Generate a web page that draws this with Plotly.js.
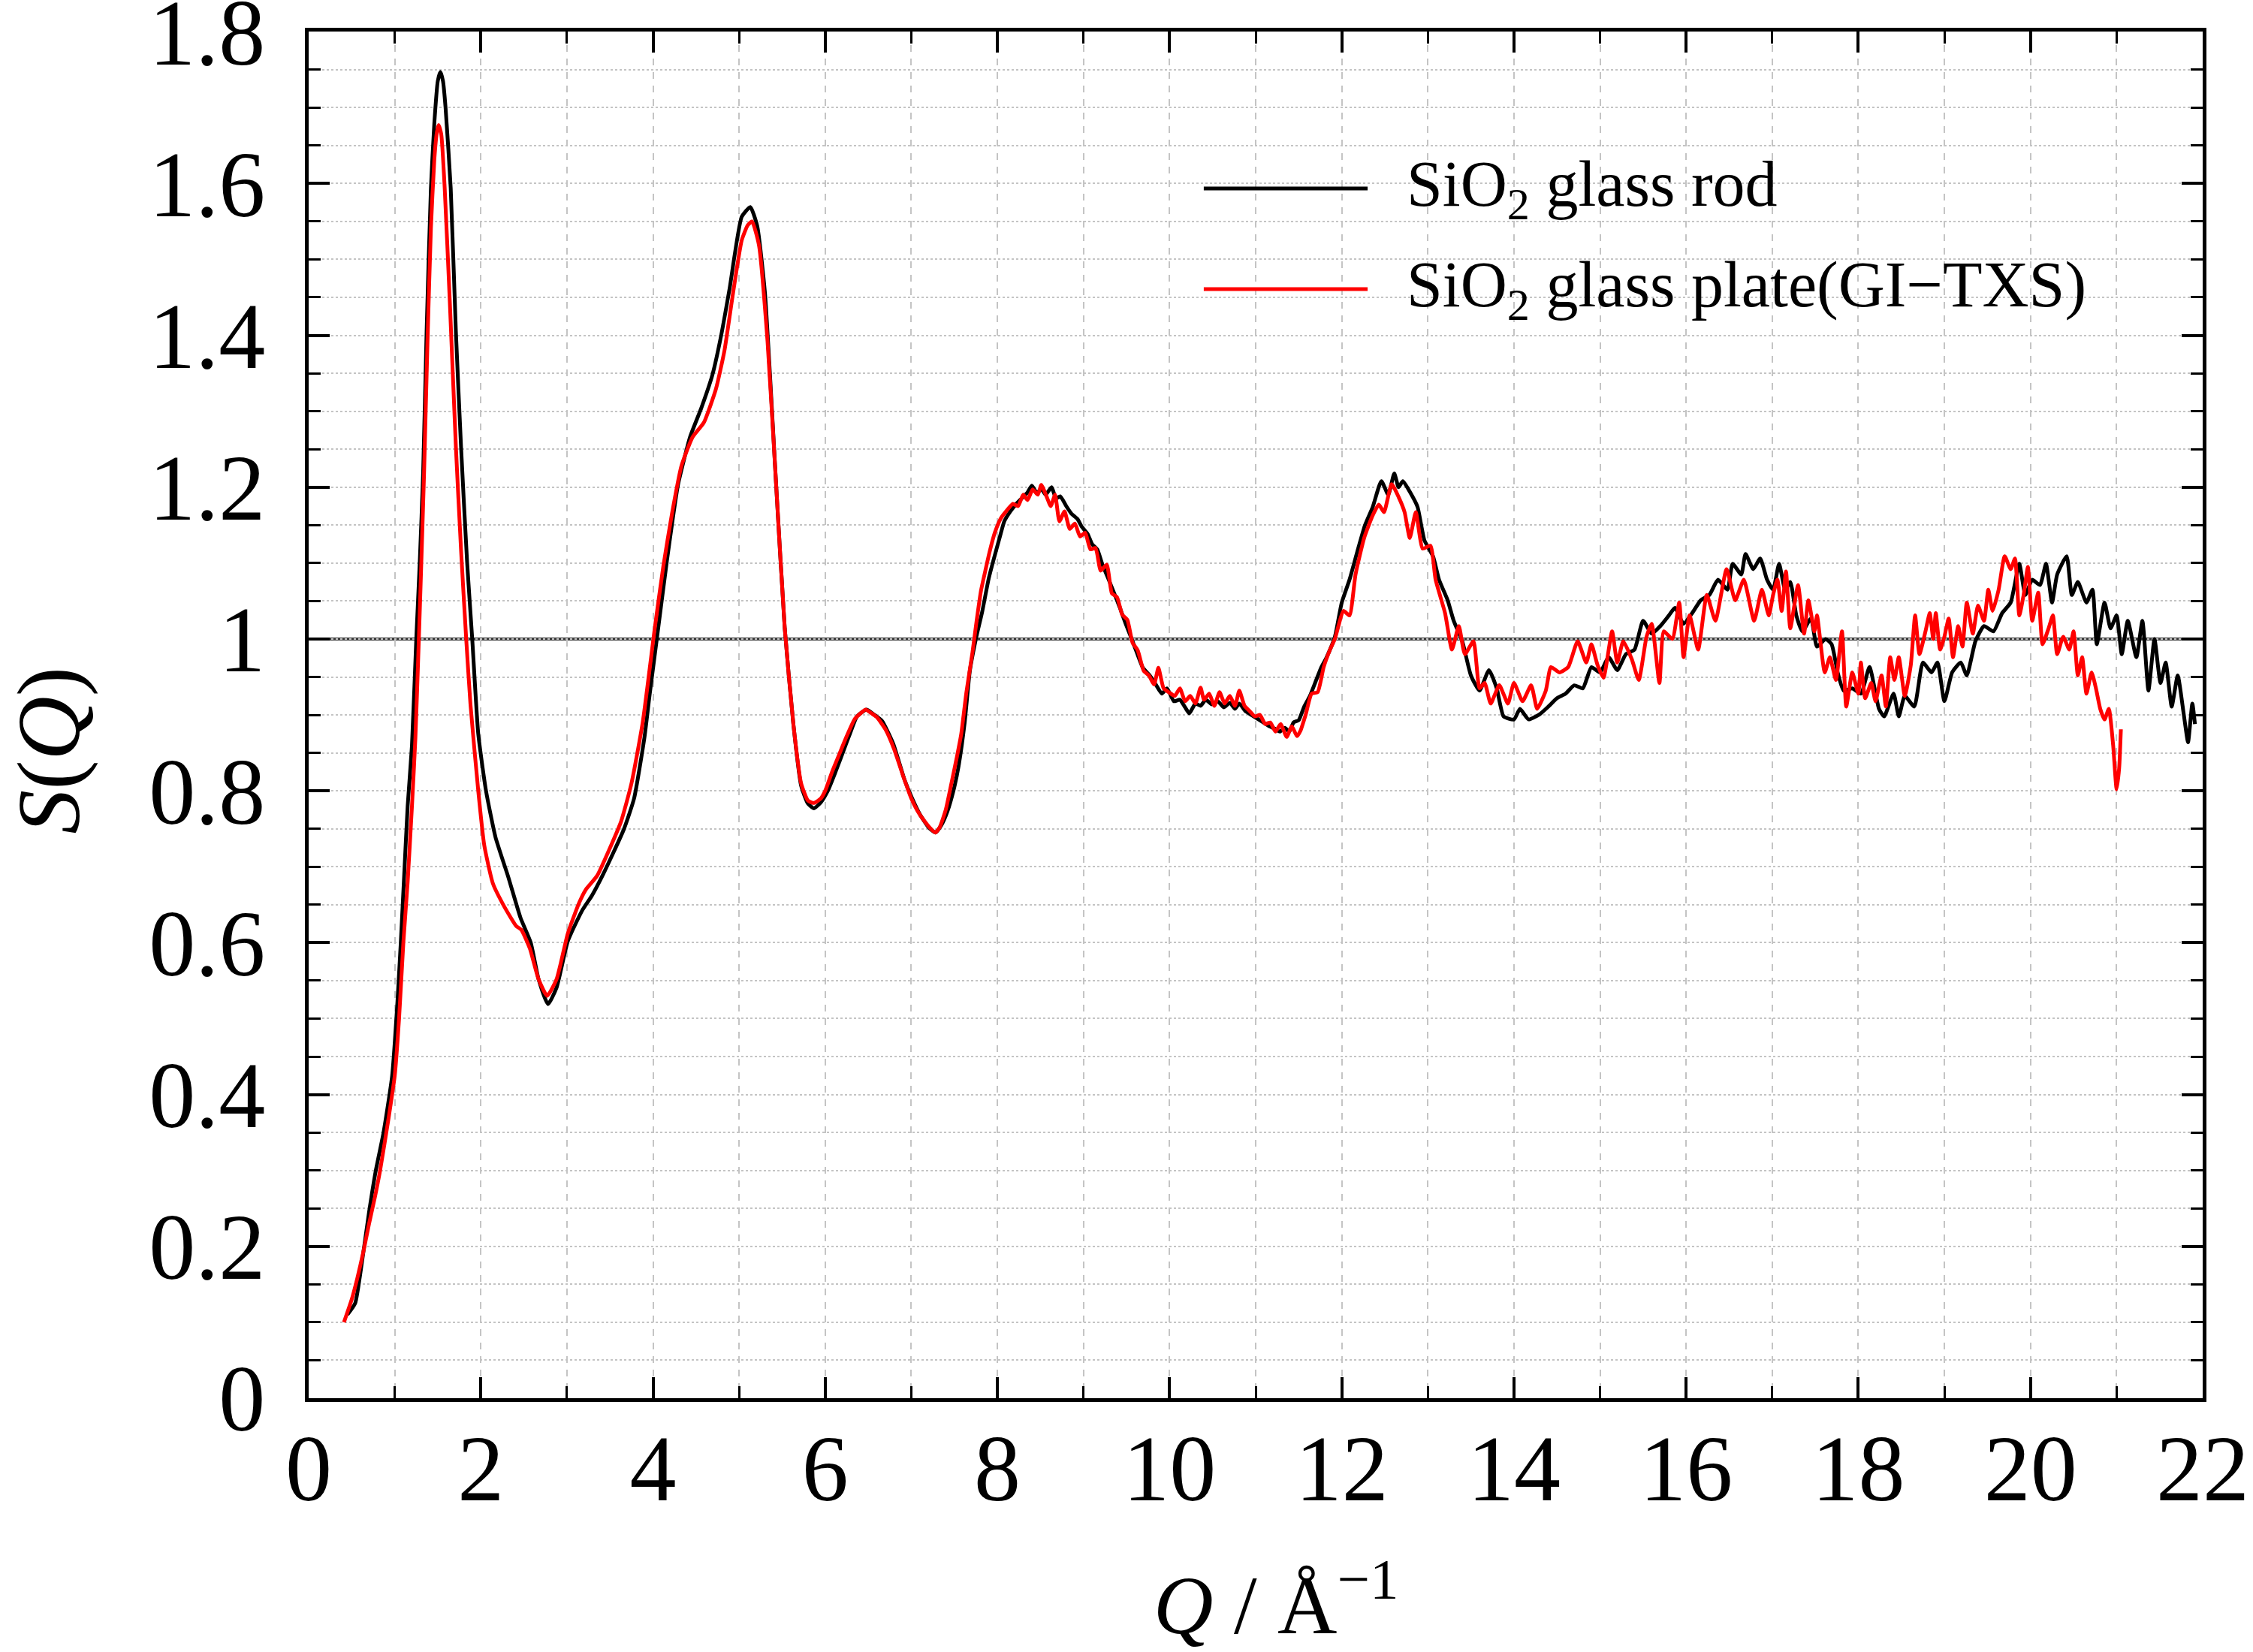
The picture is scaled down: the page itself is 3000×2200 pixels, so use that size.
<!DOCTYPE html>
<html>
<head>
<meta charset="utf-8">
<script src="https://cdn.plot.ly/plotly-3.0.1.min.js"></script>
<style>
  body { margin: 0; background: #fff; }
  #chart { width: 3000px; height: 2200px; }
</style>
</head>
<body>
<div id="chart"></div>
<script>
// SiO2 glass rod (black)
var qRod = [
  0.45,0.54,0.62,0.70,0.78,0.87,0.97,1.03,1.07,1.11,
  1.15,1.20,1.25,1.29,1.33,1.37,1.42,1.46,1.50,1.53,1.56,1.59,
  1.65,1.71,1.77,1.84,1.90,1.97,2.06,2.17,2.32,2.46,
  2.58,2.67,2.78,2.88,3.01,3.18,3.29,3.42,3.66,3.78,
  3.90,3.96,4.06,4.16,4.29,4.43,4.56,4.69,4.79,4.89,
  5.03,5.13,5.21,5.30,5.43,5.53,5.63,5.72,5.80,5.87,
  5.95,6.03,6.12,6.21,6.29,6.37,6.48,6.56,6.66,6.79,
  6.92,7.01,7.10,7.20,7.28,7.35,7.42,7.50,7.55,7.62,
  7.68,7.75,7.82,7.90,7.95,8.03,8.08,8.15,8.22,8.28,
  8.35,8.40,8.46,8.51,8.56,8.63,8.68,8.73,8.80,8.86,
  8.93,8.98,9.05,9.10,9.16,9.22,9.29,9.35,9.42,9.49,
  9.56,9.62,9.69,9.77,9.84,9.91,9.97,10.05,10.12,10.18,
  10.23,10.30,10.36,10.42,10.49,10.56,10.63,10.70,10.76,10.81,
  10.88,10.95,11.02,11.09,11.16,11.22,11.28,11.34,11.39,11.44,
  11.50,11.56,11.63,11.70,11.76,11.82,11.92,12.00,12.09,12.19,
  12.27,12.36,12.46,12.54,12.61,12.66,12.71,12.79,12.88,12.96,
  13.06,13.13,13.23,13.30,13.40,13.50,13.60,13.71,13.80,13.88,
  14.00,14.07,14.17,14.30,14.40,14.50,14.60,14.70,14.80,14.90,
  15.00,15.10,15.20,15.30,15.40,15.50,15.60,15.70,15.80,15.87,
  15.97,16.07,16.17,16.27,16.37,16.48,16.54,16.64,16.69,16.78,
  16.86,16.94,17.01,17.08,17.15,17.21,17.28,17.35,17.45,17.52,
  17.62,17.69,17.76,17.83,17.93,18.03,18.13,18.24,18.30,18.41,
  18.47,18.54,18.65,18.75,18.85,18.92,19.00,19.09,19.19,19.26,
  19.36,19.46,19.57,19.67,19.77,19.87,19.94,20.02,20.11,20.18,
  20.25,20.31,20.42,20.48,20.55,20.65,20.72,20.77,20.86,20.93,
  21.00,21.06,21.13,21.23,21.30,21.37,21.44,21.51,21.57,21.64,
  21.71,21.78,21.83,21.88,21.91
];
var sRod = [
  0.11,0.125,0.18,0.244,0.30,0.35,0.425,0.52,0.60,0.69,
  0.78,0.86,1.0,1.10,1.22,1.405,1.594,1.68,1.735,1.747,1.735,1.70,
  1.594,1.405,1.253,1.102,1.0,0.875,0.80,0.739,0.686,0.633,
  0.60,0.552,0.519,0.541,0.602,0.643,0.662,0.69,0.749,0.79,
  0.87,0.926,1.014,1.102,1.203,1.266,1.304,1.348,1.399,1.462,
  1.556,1.569,1.544,1.456,1.203,1.014,0.888,0.807,0.783,0.777,
  0.785,0.80,0.825,0.852,0.876,0.898,0.907,0.901,0.892,0.862,
  0.815,0.79,0.769,0.752,0.745,0.755,0.773,0.805,0.833,0.89,
  0.958,1.0,1.034,1.08,1.102,1.135,1.155,1.168,1.178,1.185,
  1.193,1.202,1.192,1.198,1.19,1.20,1.185,1.188,1.175,1.165,
  1.158,1.148,1.138,1.125,1.118,1.098,1.079,1.062,1.042,1.02,
  1.0,0.982,0.962,0.952,0.94,0.928,0.935,0.918,0.92,0.91,
  0.902,0.915,0.912,0.92,0.914,0.918,0.91,0.916,0.908,0.915,
  0.905,0.90,0.895,0.89,0.885,0.882,0.878,0.883,0.878,0.89,
  0.893,0.91,0.925,0.945,0.962,0.975,1.003,1.048,1.078,1.119,
  1.15,1.174,1.208,1.19,1.218,1.20,1.208,1.194,1.174,1.13,
  1.109,1.078,1.051,1.024,0.997,0.952,0.932,0.959,0.935,0.898,
  0.894,0.908,0.894,0.901,0.911,0.922,0.928,0.939,0.935,0.963,
  0.956,0.976,0.959,0.98,0.986,1.024,1.007,1.017,1.031,1.041,
  1.02,1.034,1.051,1.058,1.078,1.065,1.099,1.085,1.112,1.092,
  1.106,1.078,1.065,1.099,1.065,1.075,1.031,1.01,1.027,0.99,
  1.0,0.993,0.956,0.932,0.935,0.928,0.963,0.908,0.898,0.928,
  0.898,0.925,0.911,0.969,0.956,0.969,0.918,0.956,0.969,0.952,
  0.997,1.017,1.01,1.034,1.048,1.099,1.058,1.078,1.071,1.099,
  1.048,1.085,1.109,1.058,1.075,1.048,1.065,0.993,1.048,1.014,
  1.031,0.98,1.024,0.976,1.024,0.932,1.0,0.942,0.969,0.911,
  0.952,0.901,0.864,0.915,0.888
];

// SiO2 glass plate, GI-TXS (red)
var qPlate = [
  0.41,0.50,0.565,0.63,0.70,0.77,0.83,0.93,1.00,1.05,
  1.10,1.15,1.20,1.24,1.28,1.30,1.34,1.38,1.42,1.46,1.49,
  1.51,1.54,1.58,1.64,1.71,1.77,1.83,1.88,1.97,2.04,2.14,
  2.27,2.41,2.47,2.57,2.67,2.77,2.88,3.01,3.14,3.22,
  3.35,3.52,3.63,3.75,3.88,4.02,4.12,4.22,4.33,4.46,
  4.59,4.73,4.83,4.93,5.03,5.10,5.15,5.23,5.33,5.43,
  5.53,5.63,5.72,5.80,5.87,5.95,6.00,6.08,6.17,6.25,
  6.34,6.42,6.47,6.54,6.60,6.70,6.80,6.91,7.00,7.07,
  7.14,7.21,7.28,7.33,7.40,7.47,7.53,7.58,7.64,7.71,
  7.76,7.81,7.86,7.91,7.97,8.04,8.10,8.18,8.24,8.30,
  8.35,8.41,8.47,8.51,8.57,8.62,8.67,8.72,8.78,8.84,
  8.90,8.96,9.02,9.08,9.14,9.20,9.27,9.33,9.39,9.45,
  9.51,9.57,9.63,9.70,9.76,9.82,9.87,9.93,9.99,10.06,
  10.12,10.18,10.24,10.30,10.36,10.40,10.46,10.52,10.58,10.64,
  10.70,10.76,10.81,10.87,10.93,10.99,11.05,11.11,11.17,11.23,
  11.29,11.36,11.42,11.48,11.52,11.58,11.65,11.72,11.79,11.86,
  11.92,12.02,12.09,12.16,12.26,12.36,12.43,12.49,12.58,12.66,
  12.73,12.79,12.86,12.94,13.03,13.09,13.20,13.28,13.36,13.43,
  13.53,13.60,13.66,13.73,13.83,13.93,14.00,14.10,14.20,14.27,
  14.37,14.43,14.53,14.63,14.74,14.84,14.90,14.97,15.04,15.14,
  15.20,15.27,15.37,15.45,15.54,15.60,15.69,15.74,15.84,15.92,
  15.97,16.04,16.14,16.24,16.34,16.47,16.57,16.67,16.79,16.88,
  16.96,17.01,17.06,17.11,17.16,17.21,17.30,17.37,17.42,17.49,
  17.52,17.61,17.67,17.74,17.81,17.86,17.93,18.00,18.03,18.08,
  18.15,18.20,18.27,18.32,18.37,18.42,18.47,18.54,18.61,18.66,
  18.71,18.78,18.83,18.87,18.90,18.95,19.00,19.05,19.10,19.16,
  19.21,19.26,19.33,19.39,19.46,19.51,19.56,19.63,19.70,19.77,
  19.82,19.87,19.92,19.97,20.02,20.09,20.14,20.21,20.26,20.31,
  20.38,20.45,20.50,20.55,20.60,20.65,20.71,20.76,20.81,20.86,
  20.91,20.96,21.00,21.03,21.05
];
var sPlate = [
  0.10,0.13,0.158,0.19,0.229,0.265,0.30,0.37,0.425,0.50,
  0.60,0.68,0.78,0.87,1.0,1.07,1.216,1.39,1.541,1.632,1.668,
  1.677,1.665,1.594,1.443,1.253,1.117,1.0,0.913,0.80,0.728,0.678,
  0.648,0.622,0.617,0.592,0.552,0.53,0.552,0.612,0.652,0.67,
  0.688,0.73,0.76,0.81,0.89,1.014,1.096,1.165,1.228,1.266,
  1.285,1.329,1.38,1.456,1.525,1.545,1.55,1.519,1.392,1.203,
  1.014,0.888,0.81,0.787,0.784,0.79,0.80,0.825,0.85,0.872,
  0.894,0.903,0.907,0.902,0.897,0.881,0.855,0.818,0.79,0.774,
  0.762,0.752,0.745,0.752,0.775,0.812,0.845,0.875,0.93,0.982,
  1.025,1.064,1.09,1.115,1.14,1.159,1.168,1.178,1.175,1.19,
  1.183,1.197,1.19,1.203,1.188,1.175,1.19,1.155,1.168,1.145,
  1.152,1.135,1.14,1.118,1.12,1.09,1.098,1.06,1.055,1.032,
  1.025,0.995,0.985,0.958,0.952,0.94,0.962,0.935,0.93,0.925,
  0.935,0.918,0.925,0.915,0.936,0.92,0.928,0.912,0.93,0.915,
  0.925,0.912,0.932,0.912,0.905,0.898,0.90,0.888,0.89,0.878,
  0.888,0.871,0.885,0.872,0.879,0.90,0.928,0.93,0.963,0.985,
  1.0,1.037,1.031,1.085,1.133,1.163,1.177,1.167,1.204,1.187,
  1.167,1.133,1.167,1.119,1.123,1.078,1.034,0.986,1.017,0.98,
  0.997,0.935,0.942,0.915,0.939,0.915,0.942,0.918,0.939,0.908,
  0.932,0.963,0.956,0.963,0.997,0.969,0.993,0.966,0.949,1.01,
  0.969,0.997,0.973,0.946,1.003,1.02,0.942,1.01,1.0,1.048,
  0.976,1.031,0.986,1.058,1.024,1.092,1.051,1.078,1.024,1.065,
  1.031,1.058,1.078,1.037,1.089,1.014,1.071,1.007,1.051,1.01,
  1.031,0.956,0.976,0.946,1.01,0.911,0.956,0.928,0.969,0.922,
  0.942,0.918,0.952,0.911,0.976,0.946,0.976,0.925,0.966,1.031,
  0.98,1.01,1.034,1.0,1.034,0.986,1.003,1.027,0.976,1.017,
  0.99,1.048,1.007,1.044,1.024,1.065,1.037,1.065,1.109,1.092,
  1.106,1.031,1.058,1.095,1.024,1.061,0.993,1.014,1.031,0.98,
  1.003,0.986,1.01,0.952,0.976,0.928,0.956,0.935,0.908,0.894,
  0.908,0.86,0.802,0.83,0.881
];

var seriesNames = ['SiO<sub>2</sub> glass rod', 'SiO<sub>2</sub> glass plate(GI\u2212TXS)'];
var seriesColors = ['#000000', '#ff0000'];

var serif = 'Liberation Serif, Times New Roman, serif';

var traces = [
  { x: qRod, y: sRod, type: 'scatter', mode: 'lines', name: seriesNames[0],
    line: { color: seriesColors[0], width: 5, shape: 'spline', smoothing: 0.5 } },
  { x: qPlate, y: sPlate, type: 'scatter', mode: 'lines', name: seriesNames[1],
    line: { color: seriesColors[1], width: 5, shape: 'spline', smoothing: 0.5 } }
];

var axisCommon = {
  showline: true, linecolor: '#000', linewidth: 5, mirror: 'ticks',
  ticks: 'inside', ticklen: 28, tickwidth: 4, tickcolor: '#000',
  showgrid: true, gridcolor: '#c4c4c4', gridwidth: 2,
  zeroline: false, ticklabeloverflow: 'allow',
  tickfont: { family: serif, size: 124, color: '#000' }
};

var xaxis = Object.assign({}, axisCommon, {
  range: [0, 22], dtick: 2, tick0: 0, griddash: 'dash', ticklabelstandoff: -18,
  minor: { dtick: 1, ticks: 'inside', ticklen: 16, tickwidth: 3, tickcolor: '#000',
           showgrid: true, gridcolor: '#c4c4c4', gridwidth: 2, griddash: 'dash' }
});
// a hair over 1.8 so the top label is kept
var yaxis = Object.assign({}, axisCommon, {
  range: [0, 1.8001], dtick: 0.2, tick0: 0, griddash: 'dot', ticklabelstandoff: 28,
  minor: { dtick: 0.05, ticks: 'inside', ticklen: 16, tickwidth: 3, tickcolor: '#000',
           showgrid: true, gridcolor: '#c4c4c4', gridwidth: 2, griddash: 'dot' }
});

// legend drawn by hand so the sample lines are long like the original
var legX0 = 0.4726, legX1 = 0.5591, legTextX = 0.5789;
var legY = [0.8852, 0.8115];

var shapes = [
  { type: 'line', xref: 'paper', yref: 'y', x0: 0, x1: 1, y0: 1, y1: 1,
    line: { color: '#3c3c3c', width: 4 }, layer: 'below' }
];
var annotations = [
  { xref: 'paper', yref: 'paper', x: 0.5106, y: -0.147, xanchor: 'center', yanchor: 'middle',
    text: '<i>Q</i> / \u00c5<sup>\u22121</sup>', showarrow: false,
    font: { family: serif, size: 110, color: '#000' } },
  { xref: 'paper', yref: 'paper', x: -0.137, y: 0.474, xanchor: 'center', yanchor: 'middle',
    text: '<i>S</i>(<i>Q</i>)', textangle: -90, showarrow: false,
    font: { family: serif, size: 118, color: '#000' } }
];
for (var i = 0; i < seriesNames.length; i++) {
  shapes.push({ type: 'line', xref: 'paper', yref: 'paper', x0: legX0, x1: legX1,
    y0: legY[i], y1: legY[i], line: { color: seriesColors[i], width: 5 } });
  annotations.push({ xref: 'paper', yref: 'paper', x: legTextX, y: legY[i],
    xanchor: 'left', yanchor: 'middle', text: seriesNames[i], showarrow: false,
    font: { family: serif, size: 86, color: '#000' } });
}

var layout = {
  width: 3000, height: 2200,
  margin: { l: 411, r: 67, t: 42, b: 338 },
  paper_bgcolor: '#fff', plot_bgcolor: '#fff',
  showlegend: false,
  xaxis: xaxis, yaxis: yaxis,
  shapes: shapes, annotations: annotations
};

Plotly.newPlot('chart', traces, layout, { staticPlot: true });
</script>
</body>
</html>
